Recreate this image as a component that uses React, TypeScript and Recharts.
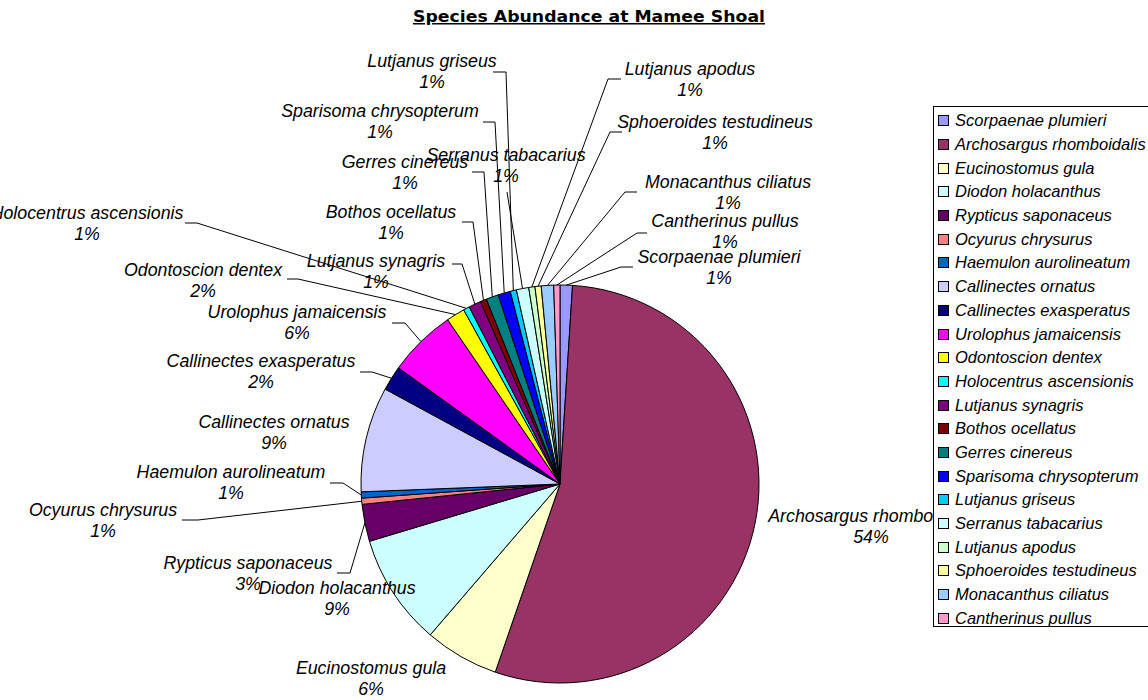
import { PieChart, Pie, Cell, Legend } from 'recharts';

const species = [
  'Scorpaenae plumieri',
  'Archosargus rhomboidalis',
  'Eucinostomus gula',
  'Diodon holacanthus',
  'Rypticus saponaceus',
  'Ocyurus chrysurus',
  'Haemulon aurolineatum',
  'Callinectes ornatus',
  'Callinectes exasperatus',
  'Urolophus jamaicensis',
  'Odontoscion dentex',
  'Holocentrus ascensionis',
  'Lutjanus synagris',
  'Bothos ocellatus',
  'Gerres cinereus',
  'Sparisoma chrysopterum',
  'Lutjanus griseus',
  'Serranus tabacarius',
  'Lutjanus apodus',
  'Sphoeroides testudineus',
  'Monacanthus ciliatus',
  'Cantherinus pullus',
];

const counts = [2, 108, 12, 18, 6, 1, 1, 17, 4, 11, 3, 1, 2, 1, 2, 2, 1, 2, 1, 1, 2, 1];

const colors = [
  '#9999FF', '#993366', '#FFFFCC', '#CCFFFF', '#660066', '#FF8080',
  '#0066CC', '#CCCCFF', '#000080', '#FF00FF', '#FFFF00', '#00FFFF',
  '#800080', '#800000', '#008080', '#0000FF', '#00CCFF', '#CCFFFF',
  '#CCFFCC', '#FFFF99', '#99CCFF', '#FF99CC',
];

// where each data label sits: [text x, name line y, leader y, leader x start, leader x elbow]
// null leader = no connector line
const labelLayout: [number, number, number | null, number | null, number | null][] = [
  [719, 257, 267, 633, 621],
  [871, 516, null, null, null],
  [371, 668, null, null, null],
  [337, 588, null, null, null],
  [248, 563, 573, 337, 350],
  [103, 510, 520, 182, 198],
  [231, 472, 483, 330, 343],
  [274, 422, null, null, null],
  [261, 361, 372, 360, 372],
  [297, 312, 323, 392, 405],
  [203, 270, 279, 287, 298],
  [87, 213, 223, 185, 197],
  [376, 261, 264, 452, 462],
  [391, 212, 222, 462, 473],
  [405, 162, 172, 472, 484],
  [380, 111, 122, 483, 495],
  [432, 61, 72, 493, 506],
  [506, 155, 192, 507, 507],
  [690, 69, 79, 621, 608],
  [715, 122, 132, 622, 610],
  [728, 182, 192, 637, 625],
  [725, 221, 233, 647, 637],
];

const data = species.map((name, i) => ({ name, value: counts[i] }));

const FONT = '"Liberation Sans", Arial, sans-serif';
const RAD = Math.PI / 180;

const renderLabel = (p: any) => {
  const [tx, ty, ly, x1, x2] = labelLayout[p.index];
  const ex = p.cx + p.outerRadius * Math.cos(-p.midAngle * RAD);
  const ey = p.cy + p.outerRadius * Math.sin(-p.midAngle * RAD);
  const pct = `${Math.round(p.percent * 100)}%`;
  return (
    <g key={`lbl-${p.index}`}>
      {ly != null && (
        <polyline
          points={`${x1},${ly} ${x2},${ly} ${ex},${ey}`}
          fill="none"
          stroke="#000"
          strokeWidth={1}
        />
      )}
      <text
        x={tx}
        y={ty}
        textAnchor="middle"
        dominantBaseline="central"
        fontFamily={FONT}
        fontStyle="italic"
        fontSize={17.8}
        fill="#000"
      >
        {p.name}
      </text>
      <text
        x={tx}
        y={ty + 21}
        textAnchor="middle"
        dominantBaseline="central"
        fontFamily={FONT}
        fontStyle="italic"
        fontSize={17.8}
        fill="#000"
      >
        {pct}
      </text>
    </g>
  );
};

const renderLegend = () => (
  <div style={{ paddingTop: 2 }}>
    {species.map((s, i) => (
      <div
        key={s}
        style={{
          display: 'flex',
          alignItems: 'center',
          height: 23.7,
          whiteSpace: 'nowrap',
        }}
      >
        <span
          style={{
            display: 'inline-block',
            width: 9,
            height: 9,
            marginLeft: 4,
            marginRight: 6,
            border: '1px solid #000',
            background: colors[i],
          }}
        />
        <span style={{ fontFamily: FONT, fontStyle: 'italic', fontSize: 16.5, color: '#000' }}>{s}</span>
      </div>
    ))}
  </div>
);

export default function App() {
  return (
    <div style={{ position: 'absolute', left: 0, top: 0, width: 1148, height: 700, overflow: 'hidden', background: '#fff' }}>
      <svg width={1148} height={40} style={{ position: 'absolute', left: 0, top: 0 }}>
        <text
          x={589}
          y={22}
          textAnchor="middle"
          fontFamily='"DejaVu Sans", sans-serif'
          fontWeight="bold"
          fontSize={15}
          textLength={352}
          lengthAdjust="spacingAndGlyphs"
          style={{ textDecoration: 'underline' }}
          fill="#000"
        >
          Species Abundance at Mamee Shoal
        </text>
      </svg>
      <div style={{ position: 'absolute', left: 0, top: 0 }}>
        <PieChart width={1148} height={700} margin={{ top: 0, right: 0, bottom: 0, left: 0 }}>
          <Pie
            data={data}
            dataKey="value"
            nameKey="name"
            cx={560}
            cy={484}
            outerRadius={199}
            startAngle={90}
            endAngle={-270}
            stroke="#000"
            strokeWidth={1}
            label={renderLabel}
            labelLine={false}
            isAnimationActive={false}
          >
            {data.map((d, i) => (
              <Cell key={d.name} fill={colors[i]} />
            ))}
          </Pie>
          <Legend
            layout="vertical"
            align="right"
            verticalAlign="top"
            content={renderLegend}
            wrapperStyle={{
              left: 933,
              top: 106,
              width: 240,
              height: 521,
              border: '1px solid #000',
              background: '#fff',
              boxSizing: 'border-box',
            }}
          />
        </PieChart>
      </div>
    </div>
  );
}
